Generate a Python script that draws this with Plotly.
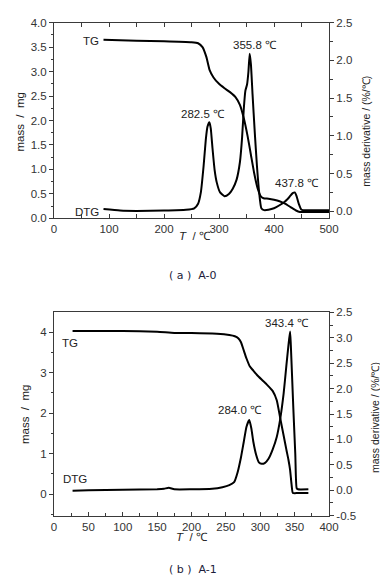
import plotly.graph_objects as go

# ---------------- data: (a) A-0 ----------------
tg_a_T = [90, 150, 200, 250, 262, 270, 277, 283, 290, 300, 310, 320, 330, 338, 345, 352, 358, 364, 370, 376, 381, 390, 400, 410, 420, 430, 440, 447, 460, 480, 500]
tg_a_m = [3.65, 3.63, 3.62, 3.60, 3.58, 3.50, 3.30, 3.03, 2.88, 2.75, 2.66, 2.58, 2.48, 2.32, 2.05, 1.68, 1.30, 0.92, 0.62, 0.45, 0.41, 0.40, 0.38, 0.35, 0.30, 0.23, 0.16, 0.13, 0.13, 0.13, 0.13]

dtg_a_T = [90, 120, 150, 200, 240, 255, 262, 267, 272, 276, 279, 282.5, 285, 288, 292, 296, 302, 310, 318, 325, 332, 338, 342, 345, 348, 351, 353.5, 355.8, 358, 361, 365, 369, 373, 377, 382, 390, 400, 410, 420, 428, 434, 437.8, 441, 445, 450, 460, 480, 500]
dtg_a_v = [0.03, 0.01, 0.005, 0.01, 0.02, 0.04, 0.10, 0.25, 0.60, 0.95, 1.12, 1.18, 1.10, 0.85, 0.55, 0.38, 0.25, 0.20, 0.23, 0.30, 0.42, 0.65, 0.98, 1.35, 1.60, 1.68, 1.85, 2.09, 1.95, 1.55, 1.05, 0.60, 0.25, 0.04, 0.015, 0.02, 0.04, 0.08, 0.13, 0.19, 0.24, 0.25, 0.20, 0.10, 0.02, 0.015, 0.015, 0.015]

# ---------------- data: (b) A-1 ----------------
tg_b_T = [27, 50, 100, 150, 175, 200, 237, 255, 263, 268, 272, 276, 280, 285, 290, 295, 302, 310, 318, 324, 329, 334, 338, 341, 343.4, 345.5, 347.5, 355, 370]
tg_b_m = [4.03, 4.03, 4.03, 4.01, 3.98, 3.98, 3.96, 3.93, 3.90, 3.85, 3.75, 3.55, 3.35, 3.15, 3.05, 2.95, 2.83, 2.70, 2.55, 2.32, 1.88, 1.45, 1.10, 0.85, 0.60, 0.25, 0.03, 0.03, 0.03]

dtg_b_T = [27, 50, 100, 150, 160, 167, 175, 200, 230, 245, 255, 262, 267, 272, 276, 280, 284, 287, 290, 294, 298, 302, 307, 312, 318, 324, 329, 334, 338, 341, 343.4, 344.5, 348, 351, 353, 355, 370]
dtg_b_v = [-0.01, 0.0, 0.01, 0.02, 0.03, 0.05, 0.02, 0.02, 0.03, 0.06, 0.10, 0.16, 0.35, 0.65, 0.95, 1.25, 1.38, 1.22, 0.95, 0.70, 0.55, 0.52, 0.54, 0.62, 0.80, 1.05, 1.40, 1.90, 2.45, 2.85, 3.12, 2.85, 1.65, 0.70, 0.04, 0.02, 0.02]

# tick labels
a_left_ticks = [0, 0.5, 1.0, 1.5, 2.0, 2.5, 3.0, 3.5, 4.0]
a_right_ticks = [0, 0.5, 1.0, 1.5, 2.0, 2.5]
b_left_ticks = [0, 1, 2, 3, 4]
b_right_ticks = [-0.5, 0, 0.5, 1.0, 1.5, 2.0, 2.5, 3.0, 3.5]
b_right_text = ["-0.5", "0.0", "0.5", "1.0", "1.5", "2.0", "2.5", "3.0", "2.5"]

# ---------------- figure ----------------
OFF = 8                      # page body margin
W, H = 380, 571
def fx(x):
    return (x - OFF) / W
def fy(y):
    return 1 - (y - OFF) / H

LINE = dict(color="#000000", width=2, shape="spline", smoothing=0.5)
AX = "#3a3a3a"
FAM = "Liberation Sans Narrow, Arial Narrow, Liberation Sans, Arial, sans-serif"
TF = dict(family=FAM, size=11.5, color="#333333")

fig = go.Figure()
fig.add_trace(go.Scatter(x=tg_a_T, y=tg_a_m, mode="lines", line=LINE, xaxis="x", yaxis="y", showlegend=False))
fig.add_trace(go.Scatter(x=dtg_a_T, y=dtg_a_v, mode="lines", line=LINE, xaxis="x", yaxis="y2", showlegend=False))
fig.add_trace(go.Scatter(x=tg_b_T, y=tg_b_m, mode="lines", line=LINE, xaxis="x2", yaxis="y3", showlegend=False))
fig.add_trace(go.Scatter(x=dtg_b_T, y=dtg_b_v, mode="lines", line=LINE, xaxis="x2", yaxis="y4", showlegend=False))

xd = [fx(54), fx(329)]
ya = [fy(218.3), fy(22.7)]
yb = [fy(515.7), fy(312.3)]

common = dict(showline=True, linecolor=AX, linewidth=1, showgrid=False, zeroline=False, automargin=False,
              tickfont=TF, tickcolor=AX, ticklen=4, tickwidth=1)

fig.update_layout(
    width=W, height=H, margin=dict(l=0, r=0, t=0, b=0, autoexpand=False),
    plot_bgcolor="white", paper_bgcolor="white", showlegend=False,
    xaxis=dict(domain=xd, anchor="y", range=[0, 500], tickmode="array", tickvals=[0, 100, 200, 300, 400, 500],
               ticks="inside", mirror="allticks",
               minor=dict(ticks="inside", dtick=50, tick0=0, ticklen=3, tickcolor=AX), **common),
    yaxis=dict(domain=ya, anchor="x", range=[0, 4.0], tickmode="array", tickvals=a_left_ticks,
               ticktext=[f"{v:.1f}" for v in a_left_ticks], ticks="outside",
               minor=dict(ticks="outside", dtick=0.25, tick0=0, ticklen=2.5, tickcolor=AX), **common),
    yaxis2=dict(domain=ya, anchor="x", overlaying="y", side="right", range=[-0.093, 2.5], tickmode="array",
                tickvals=a_right_ticks, ticktext=[f"{v:.1f}" for v in a_right_ticks], ticks="outside",
                minor=dict(ticks="outside", dtick=0.25, tick0=0, ticklen=2.5, tickcolor=AX), **common),
    xaxis2=dict(domain=xd, anchor="y3", range=[0, 400], tickmode="array", tickvals=list(range(0, 401, 50)),
                ticks="inside", mirror=True,
                minor=dict(ticks="inside", dtick=25, tick0=0, ticklen=3, tickcolor=AX), **common),
    yaxis3=dict(domain=yb, anchor="x2", range=[-0.53, 4.49], tickmode="array", tickvals=b_left_ticks,
                ticks="outside",
                minor=dict(ticks="outside", dtick=0.5, tick0=0, ticklen=2.5, tickcolor=AX), **common),
    yaxis4=dict(domain=yb, anchor="x2", overlaying="y3", side="right", range=[-0.5, 3.5], tickmode="array",
                tickvals=b_right_ticks, ticktext=b_right_text, ticks="outside",
                minor=dict(ticks="outside", dtick=0.25, tick0=0, ticklen=2.5, tickcolor=AX), **common),
)

F = dict(family=FAM, size=11.5, color="#222222")
FR = dict(family=FAM, size=10.5, color="#222222")
ann = []
def add(text, x, y, xref, yref, angle=0, xanchor="center", font=F):
    ann.append(dict(text=text, x=x, y=y, xref=xref, yref=yref, showarrow=False,
                    textangle=angle, xanchor=xanchor, yanchor="middle", font=font))

# curve labels (data coordinates)
add("TG", 86, 3.63, "x", "y", xanchor="right")
add("DTG", 86, 0.13, "x", "y", xanchor="right")
add("282.5 ℃", 271.5, 1.29, "x", "y2")
add("355.8 ℃", 365.5, 2.21, "x", "y2")
add("437.8 ℃", 441.3, 0.38, "x", "y2")
add("TG", 22.8, 3.74, "x2", "y3")
add("DTG", 30, 0.38, "x2", "y3")
add("284.0 ℃", 270.9, 1.58, "x2", "y4")
add("343.4 ℃", 339.5, 3.28, "x2", "y4")

# axis titles (paper coordinates)
for text, (x, y), ang, f in [
    ("mass  /  mg", (19.5, 122), -90, F),
    ("mass derivative / (%/℃)", (365.7, 131), -90, FR),
    ("<i>T</i>  / ℃", (195, 235.5), 0, F),
    ("mass  /  mg", (25, 415), -90, F),
    ("mass derivative / (%/℃)", (375, 418), -90, FR),
    ("<i>T</i>  / ℃", (191.7, 537), 0, F),
]:
    add(text, fx(x), fy(y), "paper", "paper", angle=ang, font=f)

CF = dict(family="DejaVu Sans, sans-serif", size=11, color="#1c1c3a")
add("( a )  A-0", fx(193.3), fy(275), "paper", "paper", font=CF)
add("( b )  A-1", fx(193.3), fy(569), "paper", "paper", font=CF)

fig.update_layout(annotations=ann)
fig.write_html("out.html")
